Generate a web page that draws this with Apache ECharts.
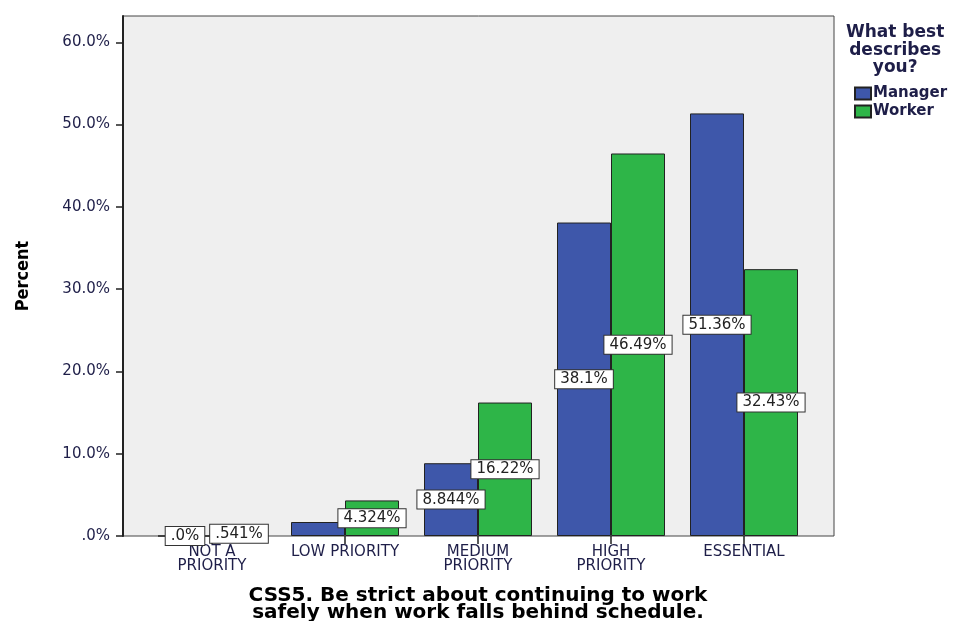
<!DOCTYPE html>
<html>
<head>
<meta charset="utf-8">
<script src="https://cdn.jsdelivr.net/npm/echarts@6/dist/echarts.min.js"></script>
<style>
  html, body { margin: 0; padding: 0; background: #ffffff; }
  #chart { width: 958px; height: 621px; }
</style>
</head>
<body>
<div id="chart"></div>
<script>
// ---- data ----
var categories = ['NOT A\nPRIORITY', 'LOW PRIORITY', 'MEDIUM\nPRIORITY', 'HIGH\nPRIORITY', 'ESSENTIAL'];
var seriesNames = ['Manager', 'Worker'];
var managerValues = [0, 1.701, 8.844, 38.10, 51.36];
var workerValues = [0.541, 4.324, 16.22, 46.49, 32.43];
var managerHiddenLabels = [1]; // label hidden by overlap in the original
var yTicks = [0, 10, 20, 30, 40, 50, 60];
var yMax = 63.2;
var xTitle = 'CSS5. Be strict about continuing to work\nsafely when work falls behind schedule.';
var yTitle = 'Percent';
var legendTitle = 'What best\ndescribes\nyou?';

function fmtPct(v) {
  if (v === 0) return '.0%';
  var s = Number(v).toPrecision(4);
  if (s.indexOf('.') >= 0) s = s.replace(/0+$/, '').replace(/\.$/, '');
  s = s.replace(/^0\./, '.');
  return s + '%';
}

var FONT = 'DejaVu Sans';
var TXT = '#1e1e48';

var labelStyle = {
  show: true,
  position: 'inside',
  formatter: function (p) { return fmtPct(p.value); },
  fontFamily: FONT,
  fontSize: 15,
  color: '#222',
  backgroundColor: '#ffffff',
  borderColor: '#333333',
  borderWidth: 1,
  padding: [2, 5, 1, 5]
};

function buildData(values, hidden) {
  return values.map(function (v, i) {
    if (hidden && hidden.indexOf(i) >= 0) return { value: v, label: { show: false } };
    return v;
  });
}

var chart = echarts.init(document.getElementById('chart'), null, { renderer: 'canvas' });
chart.setOption({
  animation: false,
  backgroundColor: '#ffffff',
  grid: [
    { left: 123, right: 124, top: 16, bottom: 85, show: true, backgroundColor: '#efefef', borderColor: '#444444', borderWidth: 1, outerBoundsMode: 'none', containLabel: false },
    { left: 145.5, right: 147.5, top: 16, bottom: 85, outerBoundsMode: 'none', containLabel: false }
  ],
  xAxis: [
    { gridIndex: 0, type: 'value', show: false, min: 0, max: 1 },
    { gridIndex: 1, type: 'category', data: categories,
      axisLine: { show: false },
      axisTick: { show: true, alignWithLabel: true, length: 8, lineStyle: { color: '#222', width: 1.5 } },
      axisLabel: { fontFamily: FONT, fontSize: 15, color: TXT, margin: 9, lineHeight: 14, interval: 0 },
      name: xTitle, nameLocation: 'middle', nameGap: 51,
      nameTextStyle: { fontFamily: FONT, fontSize: 20, fontWeight: 'bold', color: '#000', lineHeight: 17 }
    }
  ],
  yAxis: [
    { gridIndex: 0, type: 'value', min: 0, max: yMax, interval: 10,
      axisLine: { show: true, lineStyle: { color: '#222', width: 2 } },
      axisTick: { show: true, length: 7, customValues: yTicks, lineStyle: { color: '#222', width: 1.5 } },
      axisLabel: { fontFamily: FONT, fontSize: 15, color: TXT, margin: 13, customValues: yTicks,
        formatter: function (v) { return v === 0 ? '.0%' : v.toFixed(1) + '%'; } },
      splitLine: { show: false },
      name: yTitle, nameLocation: 'middle', nameGap: 91, nameRotate: 90,
      nameTextStyle: { fontFamily: 'DejaVu Sans Condensed', fontSize: 18, fontWeight: 'bold', color: '#000' }
    },
    { gridIndex: 1, type: 'value', min: 0, max: yMax, show: false, splitLine: { show: false } }
  ],
  legend: {
    data: seriesNames,
    orient: 'vertical',
    left: 849, top: 81,
    icon: 'rect',
    itemWidth: 16, itemHeight: 12, itemGap: 3,
    textStyle: { fontFamily: FONT, fontSize: 15, fontWeight: 'bold', color: TXT, padding: [0, 0, 0, -3] }
  },
  graphic: [
    { type: 'text', left: 846, top: 24,
      style: { text: legendTitle, fontFamily: FONT, fontSize: 17, fontWeight: 'bold', fill: TXT,
        textAlign: 'center', lineHeight: 17.5, x: 47 } }
  ],
  series: [
    { name: seriesNames[0], type: 'bar', xAxisIndex: 1, yAxisIndex: 1,
      data: buildData(managerValues, managerHiddenLabels),
      barWidth: 54, barGap: '0%',
      itemStyle: { color: '#3e57aa', borderColor: '#222', borderWidth: 1 },
      label: labelStyle, z: 2 },
    { name: seriesNames[1], type: 'bar', xAxisIndex: 1, yAxisIndex: 1,
      data: buildData(workerValues, null),
      barWidth: 54, barGap: '0%',
      itemStyle: { color: '#2eb548', borderColor: '#222', borderWidth: 1 },
      label: labelStyle, z: 2 }
  ]
});
</script>
</body>
</html>
